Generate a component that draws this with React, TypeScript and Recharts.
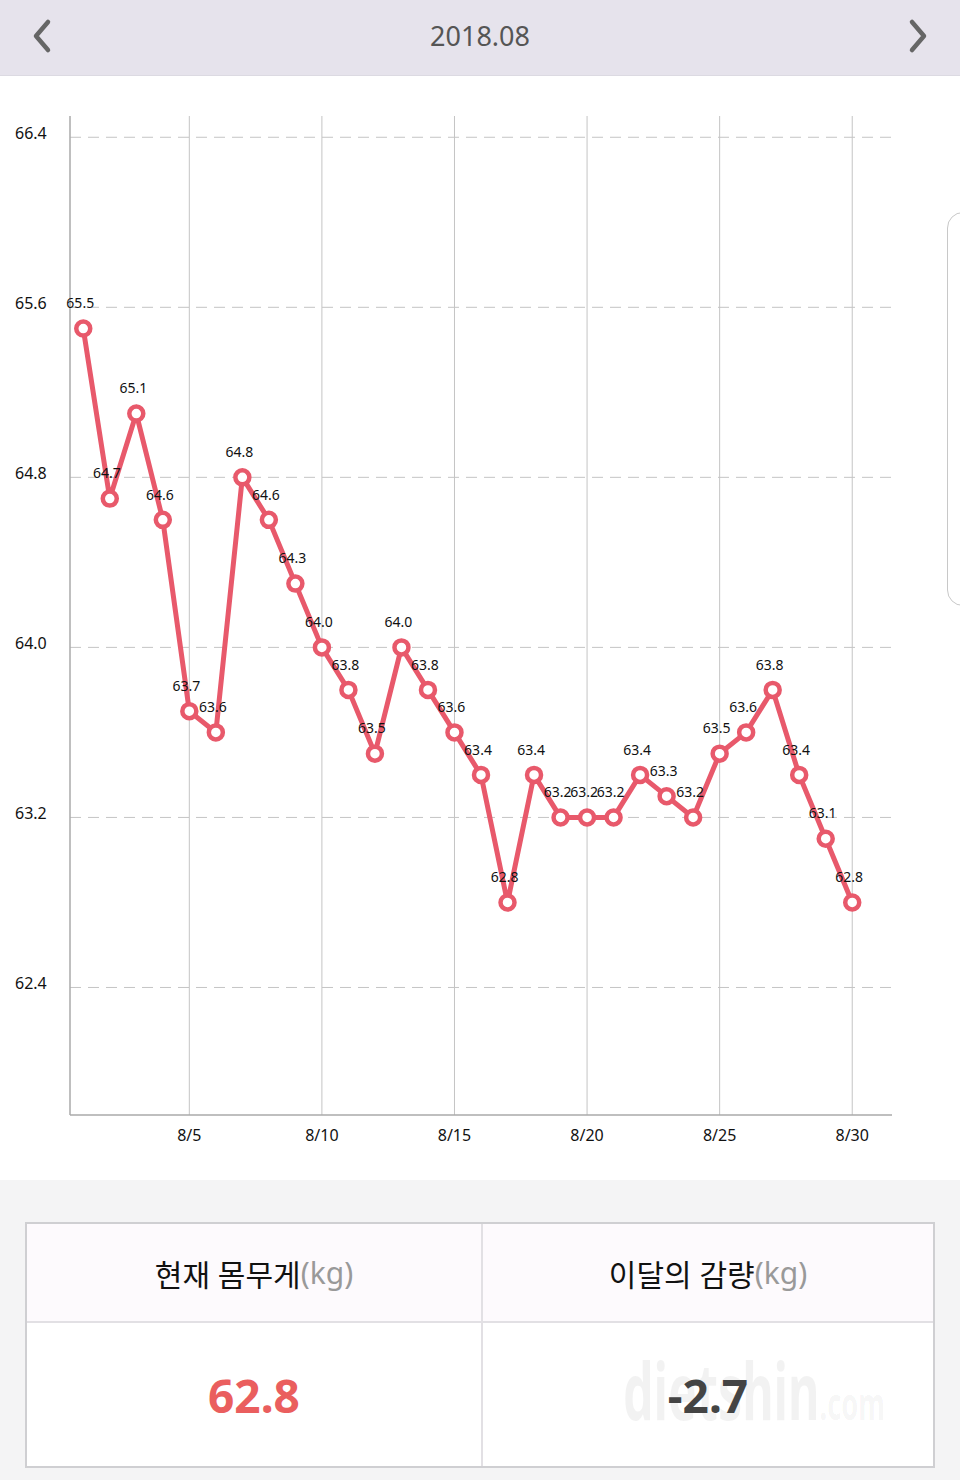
import React from "react";
import {
  LineChart,
  Line,
  XAxis,
  YAxis,
  ReferenceLine,
  LabelList,
} from "recharts";

const days: number[] = [
  1, 2, 3, 4, 5, 6, 7, 8, 9, 10, 11, 12, 13, 14, 15, 16, 17, 18, 19, 20, 21,
  22, 23, 24, 25, 26, 27, 28, 29, 30,
];
const weights: number[] = [
  65.5, 64.7, 65.1, 64.6, 63.7, 63.6, 64.8, 64.6, 64.3, 64.0, 63.8, 63.5, 64.0,
  63.8, 63.6, 63.4, 62.8, 63.4, 63.2, 63.2, 63.2, 63.4, 63.3, 63.2, 63.5, 63.6,
  63.8, 63.4, 63.1, 62.8,
];
const yTicks: number[] = [62.4, 63.2, 64.0, 64.8, 65.6, 66.4];
const xTicks: number[] = [5, 10, 15, 20, 25, 30];
const monthTitle = "2018.08";
const currentWeight = "62.8";
const monthLoss = "-2.7";

const data = days.map((d, i) => ({ day: d, w: weights[i] }));

const RED = "#e8596b";
const FONT = "'Noto Sans', 'Noto Sans CJK KR', sans-serif";

const YTick = (props: any) => {
  const { y, payload } = props;
  return (
    <text x={15} y={y - 3} fontSize={16} fill="#111" fontFamily={FONT} textAnchor="start" dominantBaseline="middle">
      {payload.value.toFixed(1)}
    </text>
  );
};

const XTick = (props: any) => {
  const { x, y, payload } = props;
  return (
    <text x={x} y={y + 18} fontSize={16} fill="#111" fontFamily={FONT} textAnchor="middle">
      {`8/${payload.value}`}
    </text>
  );
};

const PointLabel = (props: any) => {
  const { x, y, value } = props;
  return (
    <text x={x - 3} y={y - 24} fontSize={14} fill="#111" fontFamily={FONT} textAnchor="middle" dominantBaseline="middle">
      {Number(value).toFixed(1)}
    </text>
  );
};

const Chevron = ({ dir }: { dir: "left" | "right" }) => (
  <svg width={24} height={36} viewBox="0 0 24 36">
    <polyline
      points={dir === "left" ? "18,4 6,18 18,32" : "6,4 18,18 6,32"}
      fill="none"
      stroke="#666"
      strokeWidth={4.5}
      strokeLinecap="round"
      strokeLinejoin="round"
    />
  </svg>
);

export default function App() {
  return (
    <div
      style={{
        position: "absolute",
        top: 0,
        left: 0,
        width: 960,
        height: 1480,
        background: "#f4f4f5",
        fontFamily: FONT,
        overflow: "hidden",
      }}
    >
      {/* header */}
      <div
        style={{
          position: "absolute",
          top: 0,
          left: 0,
          width: 960,
          height: 75,
          background: "#e6e3ec",
          borderBottom: "1px solid #dcdae2",
        }}
      >
        <div style={{ position: "absolute", left: 30, top: 18 }}>
          <Chevron dir="left" />
        </div>
        <div
          style={{
            position: "absolute",
            left: 0,
            width: 960,
            top: 17,
            textAlign: "center",
            fontSize: 27,
            color: "#555",
          }}
        >
          {monthTitle}
        </div>
        <div style={{ position: "absolute", left: 906, top: 18 }}>
          <Chevron dir="right" />
        </div>
      </div>

      {/* chart area */}
      <div style={{ position: "absolute", top: 76, left: 0, width: 960, height: 1104, background: "#fff" }}>
        <LineChart
          width={960}
          height={1104}
          data={data}
          margin={{ top: 40, right: 68, bottom: 25, left: 0 }}
        >
          <XAxis
            dataKey="day"
            type="number"
            domain={[0.5, 31.5]}
            ticks={xTicks}
            tick={<XTick />}
            tickLine={false}
            axisLine={{ stroke: "#aaa", strokeWidth: 1.5 }}
            height={40}
            allowDataOverflow
          />
          <YAxis
            type="number"
            domain={[61.8, 66.5]}
            ticks={yTicks}
            tick={<YTick />}
            tickLine={false}
            axisLine={{ stroke: "#aaa", strokeWidth: 1.5 }}
            width={70}
            allowDataOverflow
          />
          {yTicks.map((v) => (
            <ReferenceLine key={`h${v}`} y={v} stroke="#c4c4c4" strokeDasharray="11 7" />
          ))}
          {xTicks.map((v) => (
            <ReferenceLine key={`v${v}`} x={v} stroke="#c4c4c4" />
          ))}
          <Line
            type="linear"
            dataKey="w"
            stroke={RED}
            strokeWidth={5}
            dot={{ r: 7, fill: "#fff", stroke: RED, strokeWidth: 4.5 }}
            isAnimationActive={false}
          >
            <LabelList dataKey="w" content={<PointLabel />} />
          </Line>
        </LineChart>
      </div>

      {/* scroll handle */}
      <div
        style={{
          position: "absolute",
          left: 947,
          top: 212,
          width: 30,
          height: 392,
          border: "1.5px solid #c8c8c8",
          borderRadius: 16,
          background: "#fff",
        }}
      />

      {/* summary table */}
      <div
        style={{
          position: "absolute",
          left: 25,
          top: 1222,
          width: 906,
          height: 242,
          border: "2px solid #cfcfd2",
          background: "#fff",
          boxSizing: "content-box",
        }}
      >
        <div style={{ display: "flex", height: 97, background: "#fdfafd", borderBottom: "2px solid #e2e0e4" }}>
          <div
            style={{
              width: 454,
              borderRight: "2px solid #e2e0e4",
              display: "flex",
              alignItems: "center",
              justifyContent: "center",
              fontSize: 30,
              color: "#111",
            }}
          >
            현재 몸무게<span style={{ color: "#999" }}>(kg)</span>
          </div>
          <div
            style={{
              flex: 1,
              display: "flex",
              alignItems: "center",
              justifyContent: "center",
              fontSize: 30,
              color: "#111",
            }}
          >
            이달의 감량<span style={{ color: "#999" }}>(kg)</span>
          </div>
        </div>
        <div style={{ display: "flex", height: 143, position: "relative" }}>
          <div
            style={{
              width: 454,
              borderRight: "2px solid #e2e0e4",
              display: "flex",
              alignItems: "center",
              justifyContent: "center",
              fontSize: 46,
              fontWeight: 700,
              color: "#ea5e5e",
            }}
          >
            {currentWeight}
          </div>
          <div
            style={{
              flex: 1,
              display: "flex",
              alignItems: "center",
              justifyContent: "center",
              fontSize: 46,
              fontWeight: 700,
              color: "#444",
              position: "relative",
            }}
          >
            <span
              style={{
                position: "absolute",
                left: 140,
                top: 22,
                fontSize: 78,
                lineHeight: "90px",
                color: "rgba(0,0,0,0.05)",
                transform: "scaleX(0.62)",
                transformOrigin: "left center",
                whiteSpace: "nowrap",
              }}
            >
              dietshin<span style={{ fontSize: 44 }}>.com</span>
            </span>
            <span style={{ position: "relative" }}>{monthLoss}</span>
          </div>
        </div>
      </div>
    </div>
  );
}
